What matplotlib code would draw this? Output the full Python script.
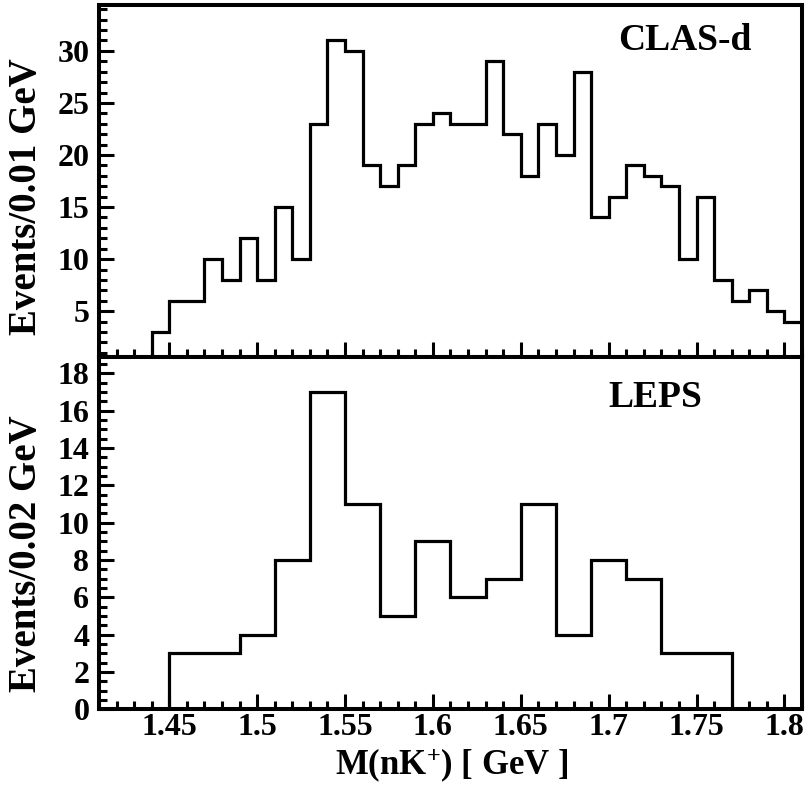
import numpy as np
import matplotlib
matplotlib.use("Agg")
import matplotlib.pyplot as plt
from matplotlib.ticker import MultipleLocator, FormatStrFormatter

_FONT = "Liberation Serif"
plt.rcParams["font.family"] = [_FONT, "DejaVu Serif"]
plt.rcParams["font.weight"] = "bold"
plt.rcParams["mathtext.fontset"] = "custom"
plt.rcParams["mathtext.rm"] = "Liberation Serif:bold"
plt.rcParams["mathtext.bf"] = "Liberation Serif:bold"
plt.rcParams["mathtext.default"] = "bf"

# CLAS-d: 0.01 GeV bins starting at 1.44 GeV
clas_lo = 1.44
clas_width = 0.01
clas_counts = [3, 6, 6, 10, 8, 12, 8, 15, 10, 23, 31, 30, 19, 17, 19, 23, 24,
               23, 23, 29, 22, 18, 23, 20, 28, 14, 16, 19, 18, 17, 10, 16, 8,
               6, 7, 5, 4]

# LEPS: 0.02 GeV bins starting at 1.45 GeV
leps_lo = 1.45
leps_width = 0.02
leps_counts = [3, 3, 4, 8, 17, 11, 5, 9, 6, 7, 11, 4, 8, 7, 3, 3]

panel_labels = ["CLAS-d", "LEPS"]
y_labels = ["Events/0.01 GeV", "Events/0.02 GeV"]
x_label = r"M(nK$^{+}$) [ GeV ]"


def edges(lo, width, n):
    return np.round(lo + width * np.arange(n + 1), 4)


fig = plt.figure(figsize=(8.12, 7.85), dpi=100)
ax1 = fig.add_axes([0.1219, 0.5452, 0.8658, 0.4484])
ax2 = fig.add_axes([0.1219, 0.0964, 0.8658, 0.4488])

ax1.stairs(clas_counts, edges(clas_lo, clas_width, len(clas_counts)),
           baseline=0, color="black", lw=2.3)
ax2.stairs(leps_counts, edges(leps_lo, leps_width, len(leps_counts)),
           baseline=0, color="black", lw=2.3)

ax1.set_ylim(0.6, 34.4)
ax2.set_ylim(0, 18.87)
ax1.yaxis.set_major_locator(MultipleLocator(5))
ax1.yaxis.set_minor_locator(MultipleLocator(1))
ax2.yaxis.set_major_locator(MultipleLocator(2))
ax2.yaxis.set_minor_locator(MultipleLocator(0.5))

for ax in (ax1, ax2):
    ax.set_xlim(1.41, 1.81)
    ax.xaxis.set_major_locator(MultipleLocator(0.05))
    ax.xaxis.set_minor_locator(MultipleLocator(0.01))
    ax.xaxis.set_major_formatter(FormatStrFormatter("%g"))
    for s in ax.spines.values():
        s.set_linewidth(2.9)
    ax.tick_params(which="both", direction="in", top=False, right=False,
                   width=2.2, labelsize=23, pad=7)
    ax.tick_params(which="major", length=10.8)
    ax.tick_params(which="minor", length=5.8)

ax1.tick_params(axis="x", labelbottom=False)
ax2.tick_params(axis="x", pad=3)

ax1.text(0.834, 0.898, panel_labels[0], transform=ax1.transAxes,
         ha="center", va="center", fontsize=27, fontweight="bold")
ax2.text(0.792, 0.884, panel_labels[1], transform=ax2.transAxes,
         ha="center", va="center", fontsize=27, fontweight="bold")

ax1.set_ylabel(y_labels[0], fontsize=28, fontweight="bold", va="center")
ax1.yaxis.set_label_coords(-0.103, 0.455)
ax2.set_ylabel(y_labels[1], fontsize=28, fontweight="bold", va="center")
ax2.yaxis.set_label_coords(-0.103, 0.442)

ax2.set_xlabel(x_label, fontsize=25, fontweight="bold", va="center")
ax2.xaxis.set_label_coords(0.502, -0.158)

fig.savefig("out.png", dpi=100)
